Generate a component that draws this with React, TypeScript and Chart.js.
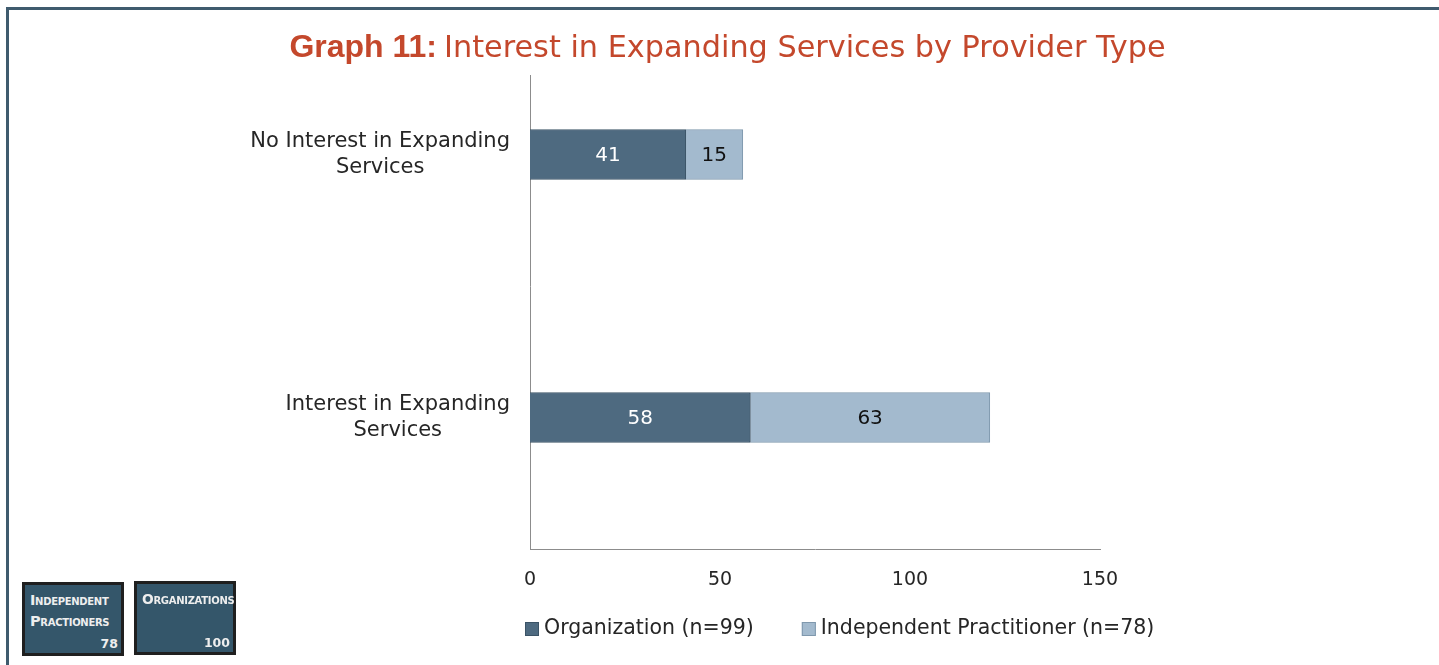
import React, { useEffect, useRef } from "react";
import { Chart, registerables } from "chart.js";

Chart.register(...registerables);

const categories: string[][] = [
  ["No Interest in Expanding", "Services"],
  ["Interest in Expanding", "Services"],
];
const organizationValues = [41, 58];
const independentValues = [15, 63];
const seriesLabels = ["Organization (n=99)", "Independent Practitioner (n=78)"];
const xMin = 0;
const xMax = 150;
const xStep = 50;
const titleBold = "Graph 11:";
const titleRest = "Interest in Expanding Services by Provider Type";
const badges = [
  { lines: ["Independent", "Practioners"], count: "78" },
  { lines: ["Organizations"], count: "100" },
];

const ORG_COLOR = "#4E6A80";
const ORG_BORDER = "#3B5366";
const IND_COLOR = "#A3BACE";
const IND_BORDER = "#7F98AD";
const TEXT = "#262626";
const TITLE_COLOR = "#C4482C";
const FONT = '"DejaVu Sans"';

const overlayPlugin = {
  id: "overlay",
  afterDatasetsDraw(chart: any) {
    const ctx = chart.ctx as CanvasRenderingContext2D;
    chart.data.datasets.forEach((ds: any, di: number) => {
      const meta = chart.getDatasetMeta(di);
      meta.data.forEach((el: any, i: number) => {
        const p = el.getCenterPoint();
        ctx.save();
        ctx.font = `20px ${FONT}`;
        ctx.fillStyle = di === 0 ? "#ffffff" : "#111111";
        ctx.textAlign = "center";
        ctx.textBaseline = "middle";
        ctx.fillText(String(ds.data[i]), p.x, p.y + 1);
        ctx.restore();
      });
    });
  },
  afterDraw(chart: any) {
    const ctx = chart.ctx as CanvasRenderingContext2D;
    const area = chart.chartArea;
    const yScale = chart.scales.y;

    // category labels (block right-aligned, lines centered)
    ctx.save();
    ctx.font = `21px ${FONT}`;
    ctx.fillStyle = TEXT;
    ctx.textAlign = "center";
    ctx.textBaseline = "middle";
    const lh = 26;
    (chart.data.labels as string[][]).forEach((lines, i) => {
      const y = yScale.getPixelForTick(i);
      const widest = Math.max(...lines.map((l) => ctx.measureText(l).width));
      const cx = area.left - 20 - widest / 2;
      const y0 = y - ((lines.length - 1) * lh) / 2;
      lines.forEach((l, k) => ctx.fillText(l, cx, y0 + k * lh));
    });
    ctx.restore();

    // title with white box
    ctx.save();
    const boldFont = `bold 32px "Liberation Sans"`;
    const restFont = `30.3px ${FONT}`;
    ctx.font = boldFont;
    const wb = ctx.measureText(titleBold).width;
    ctx.font = restFont;
    const gap = 7;
    const wr = ctx.measureText(titleRest).width;
    const total = wb + gap + wr;
    const cx = chart.width / 2 + 8;
    const x0 = cx - total / 2;
    const base = 57;
    ctx.fillStyle = "#ffffff";
    ctx.fillRect(x0 - 10, 12, total + 20, 63);
    ctx.fillStyle = TITLE_COLOR;
    ctx.textBaseline = "alphabetic";
    ctx.textAlign = "left";
    ctx.font = boldFont;
    ctx.fillText(titleBold, x0, base);
    ctx.font = restFont;
    ctx.fillText(titleRest, x0 + wb + gap, base);
    ctx.restore();

    // legend
    ctx.save();
    ctx.font = `20.5px ${FONT}`;
    ctx.textBaseline = "middle";
    ctx.textAlign = "left";
    const ly = 629;
    let lx = area.left - 5;
    chart.data.datasets.forEach((ds: any) => {
      ctx.fillStyle = ds.backgroundColor;
      ctx.fillRect(lx, ly - 7, 14, 14);
      ctx.strokeStyle = ds.borderColor;
      ctx.lineWidth = 1;
      ctx.strokeRect(lx + 0.5, ly - 6.5, 13, 13);
      ctx.fillStyle = TEXT;
      ctx.fillText(ds.label, lx + 19, ly);
      lx += 19 + ctx.measureText(ds.label).width + 48;
    });
    ctx.restore();
  },
};

function ChartCanvas() {
  const ref = useRef<HTMLCanvasElement | null>(null);
  useEffect(() => {
    if (!ref.current) return;
    const chart = new Chart(ref.current, {
      type: "bar",
      data: {
        labels: categories as any,
        datasets: [
          {
            label: seriesLabels[0],
            data: organizationValues,
            backgroundColor: ORG_COLOR,
            borderColor: ORG_BORDER,
            borderWidth: 1,
            barThickness: 50,
            stack: "s",
          },
          {
            label: seriesLabels[1],
            data: independentValues,
            backgroundColor: IND_COLOR,
            borderColor: IND_BORDER,
            borderWidth: 1,
            barThickness: 50,
            stack: "s",
          },
        ],
      },
      options: {
        indexAxis: "y",
        responsive: false,
        animation: false,
        devicePixelRatio: 1,
        layout: { padding: { left: 0, right: 339, top: 23, bottom: 0 } },
        plugins: {
          legend: { display: false },
          tooltip: { enabled: false },
          title: { display: false },
        },
        scales: {
          x: {
            stacked: true,
            min: xMin,
            max: xMax,
            ticks: {
              stepSize: xStep,
              color: TEXT,
              font: { family: "DejaVu Sans", size: 19 },
              padding: 20,
            },
            grid: { display: false, drawTicks: false },
            border: { display: true, color: "#8C8C8C", width: 1 },
            afterFit: (s: any) => {
              s.height = 116;
            },
          },
          y: {
            stacked: true,
            ticks: { display: false },
            grid: { display: false, drawTicks: false },
            border: { display: true, color: "#8C8C8C", width: 1 },
            afterFit: (s: any) => {
              s.width = 530;
            },
          },
        },
      } as any,
      plugins: [overlayPlugin],
    });
    return () => chart.destroy();
  }, []);
  return <canvas ref={ref} width={1439} height={665} style={{ position: "absolute", left: 0, top: 0 }} />;
}

function Badge({ left, top, lines, count, fontSize }: { left: number; top: number; lines: string[]; count: string; fontSize: number }) {
  return (
    <div
      style={{
        position: "absolute",
        left,
        top,
        width: 102,
        height: 74,
        boxSizing: "border-box",
        border: "3px solid #1F1F1F",
        background: "#34566A",
        color: "#EEEEEE",
        fontFamily: "DejaVu Sans",
        fontWeight: "bold",
      }}
    >
      <div style={{ position: "absolute", left: 5, top: 5, fontSize, fontVariant: "small-caps", lineHeight: "21px", whiteSpace: "nowrap", letterSpacing: -0.3 }}>
        {lines.map((l, i) => (
          <div key={i}>{l}</div>
        ))}
      </div>
      <div style={{ position: "absolute", right: 3, bottom: 2, fontSize: 12.5 }}>{count}</div>
    </div>
  );
}

export default function App() {
  useEffect(() => {
    document.body.style.overflow = "hidden";
  }, []);
  return (
    <div style={{ position: "absolute", left: 0, top: 0, width: 1439, height: 665, background: "#ffffff", overflow: "hidden" }}>
      <div
        style={{
          position: "absolute",
          left: 6,
          top: 7,
          width: 1433,
          height: 658,
          boxSizing: "border-box",
          borderLeft: "3px solid #3F5B6E",
          borderTop: "3px solid #3F5B6E",
        }}
      />
      <ChartCanvas />
      <Badge left={22} top={582} lines={badges[0].lines} count={badges[0].count} fontSize={14.5} />
      <Badge left={134} top={581} lines={badges[1].lines} count={badges[1].count} fontSize={13.8} />
    </div>
  );
}
